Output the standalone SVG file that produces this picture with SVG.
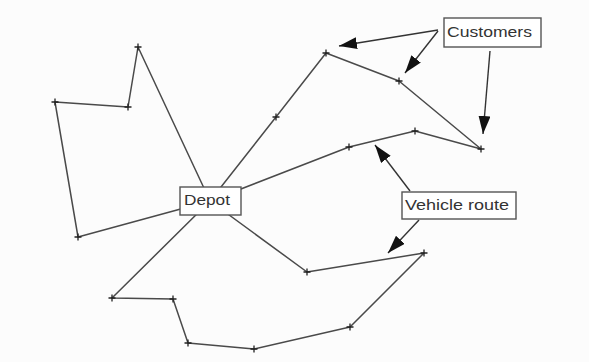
<svg xmlns="http://www.w3.org/2000/svg" xmlns:xlink="http://www.w3.org/1999/xlink" width="589" height="362" viewBox="0 0 589 362">
<style>
.route{fill:none;stroke:#4a4a4a;stroke-width:1.5;stroke-linejoin:round}
.arrow{fill:none;stroke:#333;stroke-width:1.4}
.box{fill:#fff;stroke:#555;stroke-width:1.4}
.lbl{font-family:"Liberation Sans",Arial,sans-serif;font-size:15px;fill:#333}
.cross{stroke:#222;stroke-width:1.3;fill:none}
</style>
<defs>
<marker id="ah" markerUnits="userSpaceOnUse" markerWidth="18" markerHeight="12" refX="18" refY="6" orient="auto">
<path d="M0,0 L18,6 L0,12 Z" fill="#111"/>
</marker>
<path id="x" class="cross" d="M-3.5,0H3.5M0,-3.5V3.5"/>
</defs>
<rect width="589" height="362" fill="#fcfcfc"/>
<g id="connectors">
<polyline class="route" points="210,201 138,47 128,107 55,102 78,237 210,201"/>
<polyline class="route" points="210,201 276,117 326,53 399,81 481,149 415,131 349,147 210,201"/>
<polyline class="route" points="210,201 112,298 173,299 188,343 254,349 350,327 424,253 307,272 210,201"/>
<line class="arrow" x1="438" y1="30" x2="339" y2="46" marker-end="url(#ah)"/>
<line class="arrow" x1="438" y1="31" x2="405" y2="73" marker-end="url(#ah)"/>
<line class="arrow" x1="490" y1="51" x2="483" y2="134" marker-end="url(#ah)"/>
<line class="arrow" x1="410" y1="191" x2="375" y2="145" marker-end="url(#ah)"/>
<line class="arrow" x1="419" y1="220" x2="388" y2="253" marker-end="url(#ah)"/>
</g>
<g id="customers-points">
<use xlink:href="#x" x="138" y="47"/>
<use xlink:href="#x" x="128" y="107"/>
<use xlink:href="#x" x="55" y="102"/>
<use xlink:href="#x" x="78" y="237"/>
<use xlink:href="#x" x="276" y="117"/>
<use xlink:href="#x" x="326" y="53"/>
<use xlink:href="#x" x="399" y="81"/>
<use xlink:href="#x" x="481" y="149"/>
<use xlink:href="#x" x="415" y="131"/>
<use xlink:href="#x" x="349" y="147"/>
<use xlink:href="#x" x="112" y="298"/>
<use xlink:href="#x" x="173" y="299"/>
<use xlink:href="#x" x="188" y="343"/>
<use xlink:href="#x" x="254" y="349"/>
<use xlink:href="#x" x="350" y="327"/>
<use xlink:href="#x" x="424" y="253"/>
<use xlink:href="#x" x="307" y="272"/>
</g>
<g id="depot">
<rect class="box" x="180" y="187" width="61" height="28"/>
<text class="lbl" x="184" y="205" textLength="46" lengthAdjust="spacingAndGlyphs">Depot</text>
</g>
<g id="customers">
<rect class="box" x="444" y="18" width="97" height="29"/>
<text class="lbl" x="447" y="37" textLength="85" lengthAdjust="spacingAndGlyphs">Customers</text>
</g>
<g id="vehicle-route">
<rect class="box" x="402" y="192" width="114" height="27"/>
<text class="lbl" x="405" y="210" textLength="104" lengthAdjust="spacingAndGlyphs">Vehicle route</text>
</g>
</svg>
